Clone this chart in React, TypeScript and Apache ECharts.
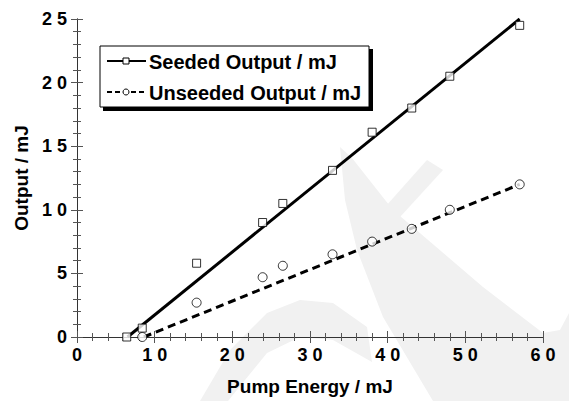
import React, { useEffect, useRef } from "react";
import * as echarts from "echarts";

const pumpEnergy = [6.4, 8.4, 15.4, 23.9, 26.5, 32.9, 38.0, 43.1, 48.0, 57.0];
const seededOutput = [0, 0.7, 5.8, 9.0, 10.5, 13.1, 16.1, 18.0, 20.5, 24.5];
const unseededEnergy = [8.4, 15.4, 23.9, 26.5, 32.9, 38.0, 43.1, 48.0, 57.0];
const unseededOutput = [0, 2.7, 4.7, 5.6, 6.5, 7.5, 8.5, 10.0, 12.0];
const seededFit = [[6.5, 0], [57.0, 25.0]];
const unseededFit = [[8.6, 0], [57.0, 12.0]];
const legendLabels = ["Seeded Output / mJ", "Unseeded Output / mJ"];
const xTitle = "Pump Energy / mJ";
const yTitle = "Output / mJ";

const spaced = (v: number) => String(v).split("").join(" ");
const font = "Liberation Sans, Arial, sans-serif";
const wm = "#f1f1f1";

export default function App() {
  const ref = useRef<HTMLDivElement>(null);
  useEffect(() => {
    const chart = echarts.init(ref.current!, null, { renderer: "svg" });
    const axisLine = { show: true, lineStyle: { color: "#333", width: 1 } };
    const tickStyle = { color: "#555", width: 1 };
    const labelStyle = { color: "#000", fontFamily: font, fontWeight: "bold", fontSize: 18 };
    const nameStyle = { color: "#000", fontFamily: font, fontWeight: "bold", fontSize: 19 };
    chart.setOption({
      animation: false,
      backgroundColor: "#fff",
      grid: { left: 77, top: 19, right: 26, bottom: 63 },
      xAxis: [
        {
          type: "value", min: 0, max: 60, interval: 10, position: "bottom",
          axisLine, splitLine: { show: false },
          axisTick: { inside: true, length: 6, lineStyle: tickStyle },
          minorTick: { show: true, splitNumber: 5, length: 4, lineStyle: tickStyle },
          axisLabel: { formatter: (v: number) => spaced(v), ...labelStyle, margin: 9 },
          name: xTitle, nameLocation: "middle", nameGap: 40,
          nameTextStyle: nameStyle,
        },
        {
          type: "value", min: 0, max: 60, interval: 10, position: "top",
          axisLine, splitLine: { show: false },
          axisTick: { inside: true, length: 6, lineStyle: tickStyle },
          minorTick: { show: true, splitNumber: 5, length: 4, lineStyle: tickStyle },
          axisLabel: { show: false },
        },
      ],
      yAxis: [
        {
          type: "value", min: 0, max: 25, interval: 5, position: "left",
          axisLine, splitLine: { show: false },
          axisTick: { inside: true, length: 6, lineStyle: tickStyle },
          minorTick: { show: true, splitNumber: 5, length: 4, lineStyle: tickStyle },
          axisLabel: { formatter: (v: number) => spaced(v), ...labelStyle, margin: 10 },
          name: yTitle, nameLocation: "middle", nameGap: 45, nameRotate: 90,
          nameTextStyle: nameStyle,
        },
        {
          type: "value", min: 0, max: 25, interval: 5, position: "right",
          axisLine, splitLine: { show: false },
          axisTick: { inside: true, length: 6, lineStyle: tickStyle },
          minorTick: { show: true, splitNumber: 5, length: 4, lineStyle: tickStyle },
          axisLabel: { show: false },
        },
      ],
      series: [
        {
          type: "line", data: seededFit, symbol: "none",
          lineStyle: { color: "#000", width: 3 }, z: 2,
        },
        {
          type: "line", data: unseededFit, symbol: "none",
          lineStyle: { color: "#000", width: 3, type: [8, 5] }, z: 2,
        },
        {
          type: "scatter", data: pumpEnergy.map((x, i) => [x, seededOutput[i]]),
          symbol: "rect", symbolSize: 8,
          itemStyle: { color: "#fff", borderColor: "#000", borderWidth: 1 }, z: 3,
        },
        {
          type: "scatter", data: unseededEnergy.map((x, i) => [x, unseededOutput[i]]),
          symbol: "circle", symbolSize: 9,
          itemStyle: { color: "#fff", borderColor: "#000", borderWidth: 1 }, z: 3,
        },
      ],
      graphic: [
        { type: "polygon", z: -10, silent: true, shape: { points: [[340, 147], [352, 158], [393, 210], [483, 287], [543, 333], [560, 330], [569, 313], [569, 401], [433, 401], [383, 317], [357, 250], [345, 200]] }, style: { fill: wm } },
        { type: "polygon", z: -10, silent: true, shape: { points: [[427, 160], [443, 170], [400, 217], [386, 206]] }, style: { fill: wm } },
        { type: "polygon", z: -10, silent: true, shape: { points: [[200, 401], [230, 350], [267, 313], [300, 300], [333, 303], [367, 327], [372, 362], [333, 340], [300, 337], [267, 353], [228, 401]] }, style: { fill: wm } },
        { type: "rect", shape: { x: 103, y: 49, width: 270, height: 62 }, style: { fill: "#000" }, z: 10 },
        { type: "rect", shape: { x: 100, y: 46, width: 269, height: 61 }, style: { fill: "#fff", stroke: "#000", lineWidth: 1 }, z: 11 },
        { type: "line", shape: { x1: 107, y1: 61, x2: 146, y2: 61 }, style: { stroke: "#000", lineWidth: 2 }, z: 12 },
        { type: "rect", shape: { x: 123, y: 58, width: 6, height: 6 }, style: { fill: "#fff", stroke: "#000", lineWidth: 1 }, z: 13 },
        { type: "text", x: 149, y: 61.5, style: { text: legendLabels[0], font: "bold 20px " + font, fill: "#000", verticalAlign: "middle" }, z: 12 },
        { type: "line", shape: { x1: 107, y1: 92, x2: 146, y2: 92 }, style: { stroke: "#000", lineWidth: 2, lineDash: [5, 3] }, z: 12 },
        { type: "circle", shape: { cx: 126, cy: 92, r: 3 }, style: { fill: "#fff", stroke: "#000", lineWidth: 1 }, z: 13 },
        { type: "text", x: 149, y: 92.5, style: { text: legendLabels[1], font: "bold 20px " + font, fill: "#000", verticalAlign: "middle" }, z: 12 },
      ],
    });
    return () => chart.dispose();
  }, []);
  return <div ref={ref} style={{ width: 569, height: 401, position: "absolute", left: 0, top: 0 }} />;
}
